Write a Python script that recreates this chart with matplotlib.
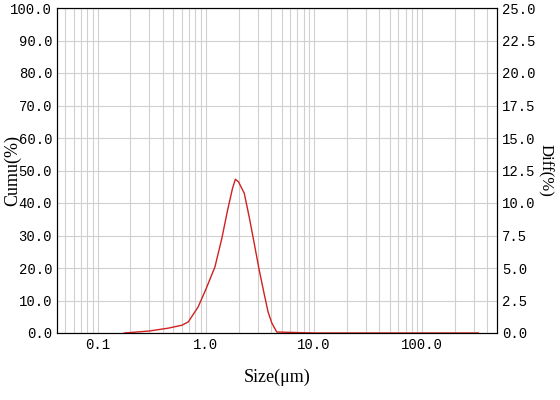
import numpy as np
import matplotlib.pyplot as plt
from matplotlib.ticker import LogLocator, FixedLocator

# diff curve (plotted on left scale)
size = [0.176, 0.297, 0.45, 0.60, 0.686, 0.846, 1.0, 1.21, 1.40, 1.585, 1.76, 1.87, 2.0, 2.26, 2.50, 2.79, 3.10, 3.44, 3.75, 4.06, 4.51, 10.0, 100.0, 330.0]
diff = [0.0, 0.6, 1.5, 2.4, 3.4, 8.0, 13.5, 20.3, 29.0, 37.8, 44.5, 47.3, 46.5, 43.0, 36.0, 27.7, 19.5, 12.3, 6.5, 3.1, 0.3, 0.0, 0.0, 0.0]

left_ticks = np.arange(0, 101, 10)
right_labels = ["%.1f" % v for v in np.arange(0, 25.1, 2.5)]
xticks = [0.1, 1.0, 10.0, 100.0]
xlabels = ["0.1", "1.0", "10.0", "100.0"]

plt.rcParams['font.family'] = ['Liberation Mono', 'DejaVu Sans']
fig = plt.figure(figsize=(5.6, 4.0), dpi=100)
ax = fig.add_axes([57/560, 67/400, 440/560, 325/400])
ax.set_xscale("log")
ax.set_xlim(0.042, 490)
ax.set_ylim(0, 100)
ax.xaxis.set_major_locator(FixedLocator(xticks))
ax.set_xticklabels(xlabels, fontsize=10)
ax.xaxis.set_minor_locator(LogLocator(base=10, subs=np.arange(2, 10)))
ax.set_yticks(left_ticks)
ax.set_yticklabels(["%.1f" % v for v in left_ticks], fontsize=10)
ax.grid(True, which="both", axis="x", color="#d0d0d0", lw=0.8)
ax.grid(True, which="major", axis="y", color="#d0d0d0", lw=0.8)
ax.tick_params(which="both", length=0)
ax.plot(size, diff, color="#d02020", lw=1.0)
ax.set_xlabel("Size(μm)", fontsize=13, family=['Liberation Serif', 'DejaVu Sans'], labelpad=12)
ax.set_ylabel("Cumu(%)", fontsize=13, family=['Liberation Serif', 'DejaVu Sans'], labelpad=-8)

ax2 = ax.twinx()
ax2.set_ylim(0, 25)
ax2.set_yticks(np.arange(0, 25.1, 2.5))
ax2.set_yticklabels(right_labels, fontsize=10)
ax2.tick_params(length=0)
ax2.set_ylabel("Diff(%)", fontsize=12, family=['Liberation Serif', 'DejaVu Sans'], rotation=-90, labelpad=1, va="bottom")

fig.savefig("out.png", dpi=100)
